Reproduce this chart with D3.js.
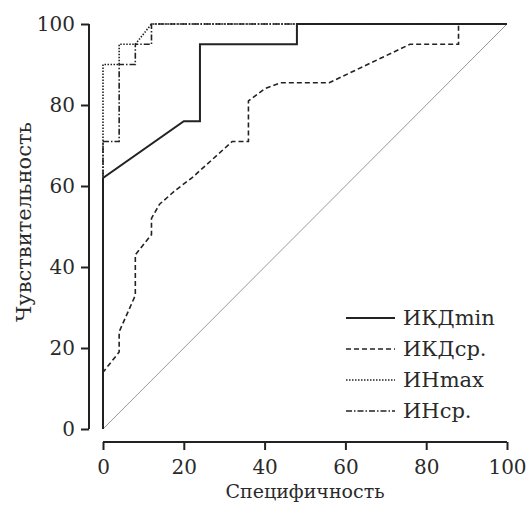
<!DOCTYPE html>
<html>
<head>
<meta charset="utf-8">
<script src="https://cdn.jsdelivr.net/npm/d3@7"></script>
<style>
  body { margin: 0; background: #fff; }
  text { font-family: "DejaVu Serif", serif; fill: #2a2a2a; }
</style>
</head>
<body>
<div id="chart"></div>
<script>
const xTicks = [0, 20, 40, 60, 80, 100];
const yTicks = [0, 20, 40, 60, 80, 100];

// [specificity axis, sensitivity]
const ikdMin = [[0,0],[0,62],[20,76],[24,76],[24,95],[48,95],[48,100],[100,100]];
const ikdAvg = [[0,0],[0,14],[4,19],[4,24],[8,33],[8,43],[12,48],[12,52],[14,55.5],[18,59],[22,62],[27,66.5],[32,71],[36,71],[36,81],[40,84],[44,85.5],[56,85.5],[76,95],[88,95],[88,100],[100,100]];
const inMax = [[0,0],[0,90],[4,90],[4,95],[8,95],[12,100],[100,100]];
const inAvg = [[0,0],[0,71],[4,71],[4,90],[8,90],[8,95],[12,95],[12,100],[100,100]];

const series = [
  { name: 'ИКДmin', data: ikdMin, dash: null, width: 2 },
  { name: 'ИКДср.', data: ikdAvg, dash: '5,3', width: 1.6 },
  { name: 'ИНmax', data: inMax, dash: '1.5,1.5', width: 1.6 },
  { name: 'ИНср.', data: inAvg, dash: '6,2,1.5,2', width: 1.6 }
];

const width = 529, height = 505;
const svg = d3.select('#chart').append('svg')
  .attr('width', width).attr('height', height);

const x = d3.scaleLinear().domain([0, 100]).range([103, 507]);
const y = d3.scaleLinear().domain([0, 100]).range([429, 24]);

// axes (detached, R style)
const xAxis = svg.append('g')
  .attr('transform', 'translate(0,442)')
  .call(d3.axisBottom(x).tickValues(xTicks).tickSize(8).tickPadding(10));
const yAxis = svg.append('g')
  .attr('transform', 'translate(89,0)')
  .call(d3.axisLeft(y).tickValues(yTicks).tickSize(8).tickPadding(6));

[xAxis, yAxis].forEach(a => {
  a.select('.domain').attr('stroke', '#222').attr('stroke-width', 2);
  a.selectAll('.tick line').attr('stroke', '#222').attr('stroke-width', 2);
  a.selectAll('.tick text').style('font-size', '20px')
    .style('font-family', '"DejaVu Serif", serif').attr('fill', '#2a2a2a');
});
xAxis.select('.domain').attr('d', `M${x(0)},0H${x(100)}`);
yAxis.select('.domain').attr('d', `M0,${y(0)}V${y(100)}`);

// reference diagonal
svg.append('line')
  .attr('x1', x(0)).attr('y1', y(0)).attr('x2', x(100)).attr('y2', y(100))
  .attr('stroke', '#999').attr('stroke-width', 1);

const line = d3.line().x(d => x(d[0])).y(d => y(d[1]));

series.forEach(s => {
  svg.append('path')
    .datum(s.data)
    .attr('d', line)
    .attr('fill', 'none')
    .attr('stroke', '#222')
    .attr('stroke-width', s.width)
    .attr('stroke-dasharray', s.dash);
});

// axis titles
svg.append('text')
  .attr('x', x(50)).attr('y', 498)
  .attr('text-anchor', 'middle')
  .style('font-size', '19px')
  .text('Специфичность');

svg.append('text')
  .attr('transform', 'translate(31,222) rotate(-90)')
  .attr('text-anchor', 'middle')
  .style('font-size', '21px')
  .text('Чувствительность');

// legend
const legend = svg.append('g').attr('transform', 'translate(346,318)');
series.forEach((s, i) => {
  const row = legend.append('g').attr('transform', `translate(0,${i * 31})`);
  row.append('line')
    .attr('x1', 0).attr('x2', 49).attr('y1', 0).attr('y2', 0)
    .attr('stroke', '#222')
    .attr('stroke-width', i === 0 ? 2.2 : 1.4)
    .attr('stroke-dasharray', s.dash);
  row.append('text')
    .attr('x', 57).attr('y', 0)
    .attr('dominant-baseline', 'central')
    .style('font-size', '21px')
    .text(s.name);
});
</script>
</body>
</html>
